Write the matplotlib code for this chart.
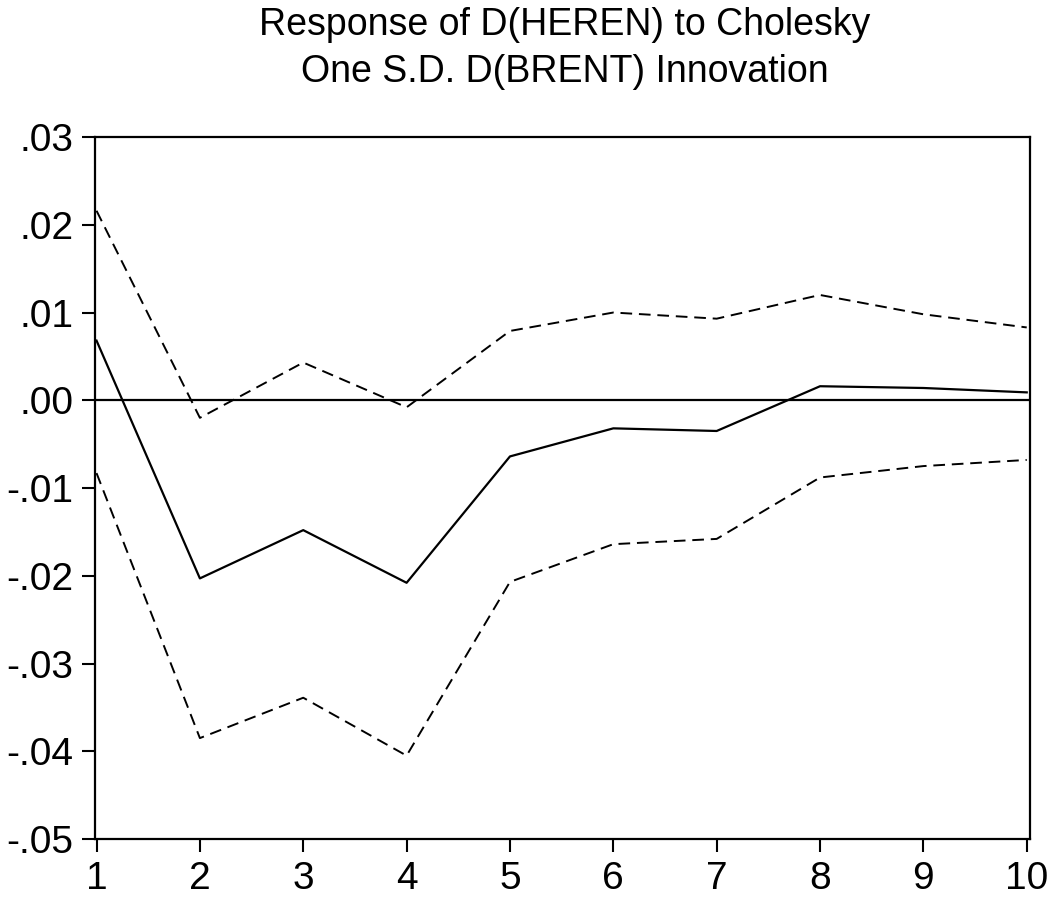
import matplotlib
matplotlib.use("Agg")
import matplotlib.pyplot as plt
import numpy as np

# Impulse response of D(HEREN) to a D(BRENT) shock, with +/- 2 S.E. bands
periods = [1, 2, 3, 4, 5, 6, 7, 8, 9, 10]
response = [0.0068, -0.0203, -0.0148, -0.0208, -0.0064, -0.0032, -0.0035, 0.0016, 0.0014, 0.0009]
upper = [0.0216, -0.0020, 0.0043, -0.0008, 0.0079, 0.0100, 0.0093, 0.0120, 0.0098, 0.0083]
lower = [-0.0083, -0.0385, -0.0339, -0.0405, -0.0207, -0.0164, -0.0158, -0.0088, -0.0075, -0.0068]

yticks = [0.03, 0.02, 0.01, 0.0, -0.01, -0.02, -0.03, -0.04, -0.05]
ylabels = ['.03', '.02', '.01', '.00', '-.01', '-.02', '-.03', '-.04', '-.05']
title1 = 'Response of D(HEREN) to Cholesky'
title2 = 'One S.D. D(BRENT) Innovation'

plt.rcParams['font.family'] = ['Liberation Sans', 'DejaVu Sans']

fig = plt.figure(figsize=(10.53, 8.98), dpi=100)
ax = fig.add_axes([0.0902, 0.0657, 0.8878, 0.7817])

ax.axhline(0, color='black', lw=1.6)
ax.plot(periods, response, color='black', lw=1.6)
ax.plot(periods, upper, color='black', lw=1.4, linestyle=(0, (6, 3.5)))
ax.plot(periods, lower, color='black', lw=1.4, linestyle=(0, (6, 3.5)))

ax.set_xlim(0.985, 10.03)
ax.set_ylim(-0.05, 0.03)
ax.set_xticks(periods)
ax.set_xticklabels([str(p) for p in periods])
ax.set_yticks(yticks)
ax.set_yticklabels(ylabels)

for s in ax.spines.values():
    s.set_linewidth(1.6)
ax.tick_params(direction='out', length=9.5, width=1.5, labelsize=28, pad=6)

fig.text(0.536, 1 - 35 / 898, title1, ha='center', va='baseline', fontsize=27)
fig.text(0.536, 1 - 82 / 898, title2, ha='center', va='baseline', fontsize=27)

fig.savefig('out.png', dpi=100)
